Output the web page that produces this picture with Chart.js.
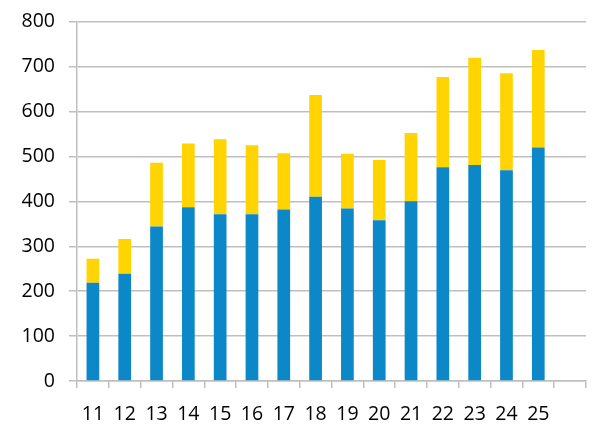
<!DOCTYPE html>
<html>
<head>
<meta charset="UTF-8">
<script src="https://cdn.jsdelivr.net/npm/chart.js"></script>
<style>
  html, body { margin: 0; padding: 0; background: #fff; overflow: hidden; }
  #wrap { width: 609px; height: 431px; overflow: hidden; }
  #chart { display: block; margin-top: -4px; }
</style>
</head>
<body>
<div id="wrap"><canvas id="chart" width="609" height="435"></canvas></div>
<script>
const categories = ['11', '12', '13', '14', '15', '16', '17', '18', '19', '20', '21', '22', '23', '24', '25', ''];
const blueValues = [219, 239, 344, 387, 371, 371, 382, 410, 384, 358, 400, 476, 481, 469, 520];
const yellowValues = [53, 77, 142, 142, 167, 154, 125, 227, 122, 134, 152, 201, 239, 216, 217];
const yTicks = [0, 100, 200, 300, 400, 500, 600, 700, 800];

const gridColor = '#bfbfbf';
const font = { family: 'Open Sans', size: 19.5 };

new Chart(document.getElementById('chart'), {
  type: 'bar',
  data: {
    labels: categories,
    datasets: [
      { data: blueValues, backgroundColor: '#0c88c8', barPercentage: 0.4, categoryPercentage: 1 },
      { data: yellowValues, backgroundColor: '#ffd400', barPercentage: 0.4, categoryPercentage: 1 }
    ]
  },
  options: {
    responsive: false,
    animation: false,
    layout: { padding: { left: 0, right: 23, top: 12, bottom: 0 } },
    plugins: { legend: { display: false }, tooltip: { enabled: false } },
    scales: {
      x: {
        stacked: true,
        grid: { display: true, drawOnChartArea: false, drawTicks: true, tickLength: 7, color: gridColor, lineWidth: 1.5 },
        border: { color: gridColor, width: 1.5 },
        ticks: { color: '#000', font: font, padding: 15, maxRotation: 0 },
        afterFit: s => { s.height = 50; }
      },
      y: {
        stacked: true,
        min: 0,
        max: 800,
        afterBuildTicks: s => { s.ticks = yTicks.map(v => ({ value: v })); },
        grid: { color: gridColor, lineWidth: 1.5, tickLength: 8 },
        border: { color: gridColor, width: 1.5 },
        ticks: { color: '#000', font: font, padding: 14 },
        afterFit: s => { s.width = 77; }
      }
    }
  }
});
</script>
</body>
</html>
